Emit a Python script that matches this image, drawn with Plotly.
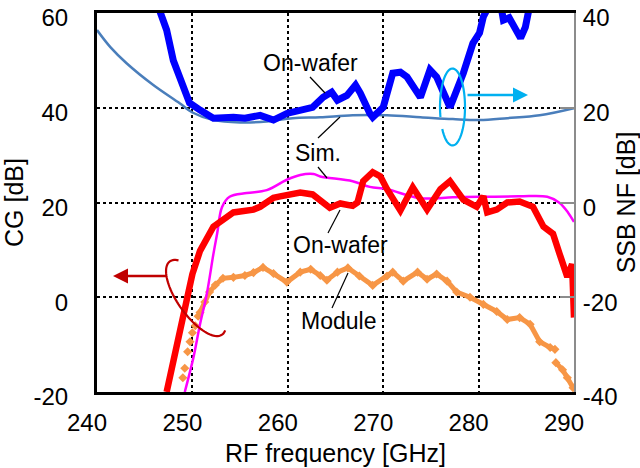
import numpy as np
import plotly.graph_objects as go

# ---------------- data ----------------
# Simulated SSB NF (right axis)
nf_sim_f = [240, 241.4, 243.1, 245.9, 248.7, 250.0, 252.2, 255.0, 257.8, 260.5, 263.4,
            266.8, 270.4, 273.9, 277.3, 280.1, 283.0, 286.4, 290.0]
nf_sim = [36.4, 32.8, 29.4, 24.8, 20.9, 19.0, 17.4, 16.9, 17.1, 17.8, 18.0,
          18.4, 18.4, 18.0, 17.6, 17.4, 17.8, 18.4, 19.9]

# Measured on-wafer SSB NF (right axis)
nf_meas_f = [246.3, 246.6, 247.3, 248.0, 249.0, 249.7, 250.8, 252.2, 254.3, 255.5, 257.1,
             258.5, 259.9, 261.3, 262.6, 263.7, 264.6, 265.2, 266.2, 267.1, 267.6, 268.6,
             268.9, 270.0, 271.0, 271.8, 272.5, 273.9, 274.9, 275.6, 277.0, 277.3, 278.4,
             279.4, 280.1, 280.5, 281.2, 282.3, 282.6, 283.2, 283.8, 284.4, 284.9, 285.4]
nf_meas = [42.0, 40.0, 36.4, 30.0, 24.3, 21.0, 19.5, 17.8, 18.0, 17.8, 18.4,
           17.4, 18.8, 19.3, 20.1, 22.2, 23.3, 21.6, 22.6, 24.8, 23.1, 18.8,
           18.0, 20.1, 27.3, 27.5, 26.5, 22.2, 28.0, 26.5, 20.1, 21.6, 27.3,
           33.6, 35.8, 39.2, 42.0, 42.0, 38.5, 39.0, 37.0, 34.7, 37.0, 42.0]

# Simulated conversion gain (left axis)
cg_sim_f = [249.2, 250.1, 250.8, 251.5, 252.2, 252.6, 253.1, 253.9, 255.7, 257.8, 259.9,
            261.3, 262.7, 263.4, 266.8, 268.6, 270.4, 273.9, 277.3, 280.1, 284.3, 287.2,
            288.5, 289.4, 290.0]
cg_sim = [-20.0, -12.8, -5.7, 0.6, 9.1, 13.5, 19.0, 21.2, 22.0, 22.6, 24.8,
          25.8, 26.0, 25.5, 24.5, 23.3, 22.8, 20.9, 21.1, 21.2, 21.3, 21.2,
          19.9, 17.8, 15.9]

# Measured on-wafer conversion gain (left axis)
cg_wafer_f = [247.3, 248.4, 249.2, 250.0, 250.8, 251.8, 252.2, 254.3, 256.4, 257.1, 258.5,
              259.2, 261.3, 262.6, 263.4, 264.4, 265.5, 266.8, 267.3, 267.9, 268.9, 269.7,
              270.4, 271.8, 273.1, 274.6, 276.0, 277.0, 278.4, 279.8, 280.5, 280.9, 281.9,
              283.0, 284.3, 285.7, 286.8, 287.8, 288.5, 289.3, 289.8, 290.0]
cg_wafer = [-20.0, -10.0, -2.1, 4.9, 9.8, 13.4, 14.9, 17.9, 18.5, 19.1, 21.0,
            21.3, 22.1, 21.7, 20.6, 18.9, 19.8, 19.3, 20.0, 24.5, 26.4, 25.5,
            22.8, 18.3, 23.2, 18.5, 22.8, 24.5, 20.6, 19.1, 21.3, 17.9, 18.5,
            20.0, 20.2, 19.1, 14.9, 13.4, 9.1, 4.3, 7.0, -4.3]

# Module conversion gain (left axis): sparse points at the low edge, then the band
cg_mod_edge_f = [249.0, 249.2, 249.5, 249.75, 250.0, 250.3, 250.6]
cg_mod_edge = [-17.0, -15.0, -11.5, -9.4, -7.5, -6.0, -4.0]
cg_mod_f = [250.8, 251.3, 251.8, 252.4, 253.2, 254.3, 255.5, 256.4, 257.4, 258.5, 259.9,
            261.3, 262.4, 263.4, 264.1, 265.2, 266.3, 267.5, 268.9, 270.4, 271.0, 272.1,
            273.6, 274.6, 275.6, 276.7, 277.7, 279.1, 280.5, 281.9, 283.0, 284.3, 285.4,
            286.4, 287.5, 288.0, None, 288.1, 288.8, 289.3, 289.9]
cg_mod = [-3.2, -1.0, 1.1, 2.6, 4.0, 4.2, 4.6, 5.2, 6.3, 5.0, 3.2,
          5.3, 5.9, 4.6, 3.6, 5.3, 6.2, 4.5, 2.5, 4.5, 5.3, 3.4,
          5.3, 3.8, 4.9, 3.4, 1.1, 0.0, -1.5, -3.0, -4.7, -4.3, -5.7,
          -9.4, -10.6, -11.0, None, -13.8, -15.3, -17.0, -19.1]

x_ticks = [240, 250, 260, 270, 280, 290]
cg_ticks = [-20, 0, 20, 40, 60]
nf_ticks = [-40, -20, 0, 20, 40]

# ---------------- geometry helpers (pixel -> data) ----------------
L, R, T, B = 97, 574, 13, 392
def px_x(px):
    return 240 + (px - L) * 50.0 / (R - L)
def px_y(py):
    return 60 - (py - T) * 80.0 / (B - T)

FONT = "Liberation Sans, Arial, sans-serif"
FS = 23      # annotation text
TFS = 24     # tick labels
TTL = 25     # axis titles

fig = go.Figure()
fig.add_trace(go.Scatter(x=nf_sim_f, y=nf_sim, yaxis="y2", mode="lines",
                         line=dict(color="#4a7ebb", width=2.5, shape="spline"),
                         showlegend=False))
fig.add_trace(go.Scatter(x=nf_meas_f, y=nf_meas, yaxis="y2", mode="lines",
                         line=dict(color="#0000ff", width=7), showlegend=False))
fig.add_trace(go.Scatter(x=cg_mod_edge_f, y=cg_mod_edge, mode="markers",
                         marker=dict(symbol="diamond", size=7, color="#f79646"),
                         showlegend=False))
fig.add_trace(go.Scatter(x=cg_mod_f, y=cg_mod, mode="lines+markers",
                         line=dict(color="#f79646", width=5),
                         marker=dict(symbol="diamond", size=7, color="#f79646"),
                         showlegend=False))
fig.add_trace(go.Scatter(x=cg_sim_f, y=cg_sim, mode="lines",
                         line=dict(color="#ff00ff", width=2.5, shape="spline"),
                         showlegend=False))
fig.add_trace(go.Scatter(x=cg_wafer_f, y=cg_wafer, mode="lines",
                         line=dict(color="#ff0000", width=6.5), showlegend=False))

shapes = []
def leader(x0, y0, x1, y1):
    shapes.append(dict(type="line", xref="x", yref="y",
                       x0=px_x(x0), y0=px_y(y0), x1=px_x(x1), y1=px_y(y1),
                       line=dict(color="black", width=1.2)))
leader(310, 77, 325, 93)
leader(318, 138, 340, 117)
leader(318, 167, 327, 178)
leader(328, 233, 340, 210)
leader(332, 308, 348, 273)

def ellipse_path(cx, cy, a, b, ang_deg, t0, t1, n=60):
    ang = np.radians(ang_deg)
    ux, uy = np.cos(ang), np.sin(ang)
    vx, vy = -np.sin(ang), np.cos(ang)
    ts = np.radians(np.linspace(t0, t1, n))
    pts = []
    for t in ts:
        px = cx + a * np.cos(t) * ux + b * np.sin(t) * vx
        py = cy + a * np.cos(t) * uy + b * np.sin(t) * vy
        pts.append((px_x(px), px_y(py)))
    return "M" + " L".join(f"{x:.4f},{y:.4f}" for x, y in pts)

shapes.append(dict(type="path", xref="x", yref="y",
                   path=ellipse_path(452.5, 107, 12.5, 38.5, 0, 145, -195),
                   line=dict(color="#00b0f0", width=2.2)))
shapes.append(dict(type="path", xref="x", yref="y",
                   path=ellipse_path(196, 298, 45, 18, 54.5, 205, -16),
                   line=dict(color="#c00000", width=2.2)))

annotations = []
def label(text, cx, cy):
    annotations.append(dict(text=text, x=px_x(cx), y=px_y(cy), xref="x", yref="y",
                            showarrow=False, font=dict(size=FS, color="black", family=FONT),
                            xanchor="center", yanchor="middle"))
label("On-wafer", 310, 63)
label("Sim.", 318, 153)
label("On-wafer", 340, 245)
label("Module", 338, 321)

def arrow(x0, y0, x1, y1, color):
    annotations.append(dict(text="", x=px_x(x1), y=px_y(y1), ax=px_x(x0), ay=px_y(y0),
                            xref="x", yref="y", axref="x", ayref="y",
                            showarrow=True, arrowhead=2, arrowsize=1.2, arrowwidth=2.5,
                            arrowcolor=color, standoff=0))
arrow(466, 95, 528, 95, "#00b0f0")
arrow(168, 276, 113, 276, "#c00000")

def hy(v):
    return str(v).replace("\u2212", "-")

fig.update_layout(
    width=640, height=468,
    margin=dict(l=L, r=640 - R, t=T, b=468 - B),
    paper_bgcolor="white", plot_bgcolor="white",
    font=dict(family=FONT, size=FS, color="black"),
    showlegend=False,
    shapes=shapes, annotations=annotations,
    xaxis=dict(range=[240, 290], tickvals=x_ticks, ticktext=[hy(v) for v in x_ticks],
               showgrid=True, gridcolor="black", griddash="dot", gridwidth=2,
               showline=True, linecolor="black", linewidth=3, mirror=True,
               zeroline=False, ticks="", tickfont=dict(size=TFS), automargin=False,
               ticklabelstandoff=7, ticklabelshift=-10, ticklabeloverflow="allow",
               title=dict(text="RF frequency [GHz]", font=dict(size=TTL), standoff=10)),
    yaxis=dict(range=[-20, 60], tickvals=cg_ticks, ticktext=[hy(v) for v in cg_ticks],
               showgrid=True, gridcolor="black", griddash="dot", gridwidth=2,
               showline=True, linecolor="black", linewidth=3, automargin=False,
               zeroline=False, ticks="", tickfont=dict(size=TFS),
               ticklabelstandoff=21, ticklabelshift=5, ticklabeloverflow="allow",
               title=dict(text="CG [dB]", font=dict(size=TTL), standoff=9)),
    yaxis2=dict(range=[-40, 40], tickvals=nf_ticks, ticktext=[hy(v) for v in nf_ticks],
                overlaying="y", side="right",
                showgrid=False, showline=True, linecolor="#8c8c8c", linewidth=2,
                zeroline=False, ticks="inside", ticklen=14, tickcolor="#8c8c8c", tickwidth=2,
                tickfont=dict(size=TFS), ticklabelstandoff=2, ticklabelshift=5,
                ticklabeloverflow="allow", automargin=False,
                title=dict(text="SSB NF [dB]", font=dict(size=TTL), standoff=14)),
)

fig.write_html("out.html")
